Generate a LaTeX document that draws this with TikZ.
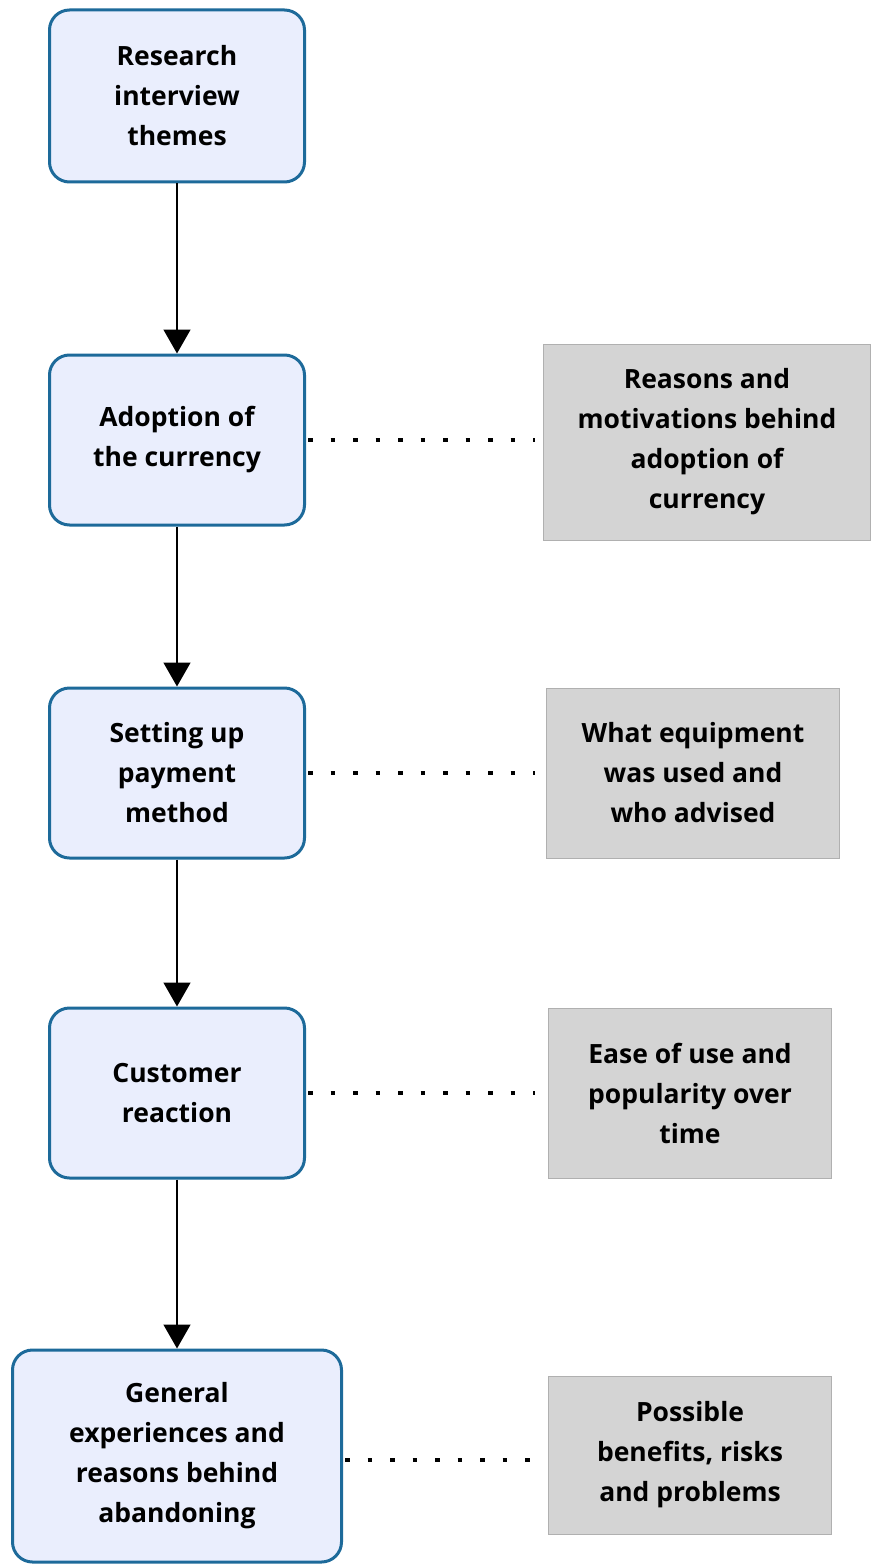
\documentclass[tikz,border=0pt]{standalone}
\usepackage{fontspec}
\setmainfont{Open Sans}
\usetikzlibrary{arrows.meta}
\definecolor{bfill}{HTML}{EAEEFD}
\definecolor{bdraw}{HTML}{1D6A9A}
\definecolor{gfill}{HTML}{D4D4D4}
\definecolor{gdraw}{HTML}{B0B0B0}
\begin{document}
\begin{tikzpicture}[x=1pt,y=-1pt,
  theme/.style={draw=bdraw,fill=bfill,line width=3pt,rounded corners=20pt,
    align=center,font=\fontsize{26.5}{40}\selectfont\bfseries,inner sep=0pt},
  note/.style={draw=gdraw,fill=gfill,line width=1pt,
    align=center,font=\fontsize{26.5}{40}\selectfont\bfseries,inner sep=0pt},
  flow/.style={line width=1.5pt,-{Triangle[width=27pt,length=24pt]}},
  link/.style={line width=4.5pt,dash pattern=on 4.5pt off 18pt}]
\useasboundingbox (0,0) rectangle (871,1565);
\node[theme,minimum width=255pt,minimum height=172pt] (t1) at (177,96) {Research\\interview\\themes};
\node[theme,minimum width=255pt,minimum height=170pt] (t2) at (177,440) {Adoption of\\the currency};
\node[theme,minimum width=255pt,minimum height=170pt] (t3) at (177,773) {Setting up\\payment\\method};
\node[theme,minimum width=255pt,minimum height=170pt] (t4) at (177,1093) {Customer\\reaction};
\node[theme,minimum width=329pt,minimum height=212pt] (t5) at (177,1456) {General\\experiences and\\reasons behind\\abandoning};
\node[note,minimum width=327pt,minimum height=196pt] (n2) at (707,442) {Reasons and\\motivations behind\\adoption of\\currency};
\node[note,minimum width=293pt,minimum height=170pt] (n3) at (693,773) {What equipment\\was used and\\who advised};
\node[note,minimum width=283pt,minimum height=170pt] (n4) at (690,1093) {Ease of use and\\popularity over\\time};
\node[note,minimum width=283pt,minimum height=158pt] (n5) at (690,1455) {Possible\\benefits, risks\\and problems};
\draw[flow] (t1) -- (t2);
\draw[flow] (t2) -- (t3);
\draw[flow] (t3) -- (t4);
\draw[flow] (t4) -- (t5);
\coordinate (e2) at (535,440);
\coordinate (e3) at (535,773);
\coordinate (e4) at (535,1093);
\coordinate (e5) at (545,1460);
\draw[link] (t2.east |- e2) ++(2,0) -- (e2);
\draw[link] (t3.east |- e3) ++(2,0) -- (e3);
\draw[link] (t4.east |- e4) ++(2,0) -- (e4);
\draw[link] (t5.east |- e5) ++(2,0) -- (e5);
\end{tikzpicture}
\end{document}
